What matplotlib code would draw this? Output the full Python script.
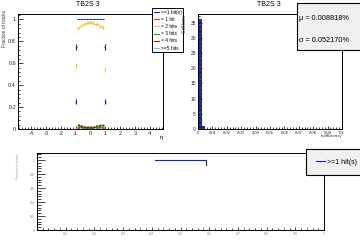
import matplotlib
matplotlib.use('Agg')
import matplotlib.pyplot as plt
from matplotlib.lines import Line2D
from matplotlib.patches import Rectangle
from matplotlib.ticker import MultipleLocator

plt.rcParams['font.family'] = ['Liberation Sans', 'DejaVu Sans']

W, H = 360, 240

# --- top left: fraction of tracks vs eta, per number of hits
eta_in = [-0.85, -0.75, -0.65, -0.55, -0.45, -0.35, -0.25, -0.15, -0.05,
          0.05, 0.15, 0.25, 0.35, 0.45, 0.55, 0.65, 0.75, 0.85]
frac_any = [1.0, 1.0, 1.0, 1.0, 1.0, 1.0, 1.0, 1.0, 1.0,
            1.0, 1.0, 1.0, 1.0, 1.0, 1.0, 1.0, 1.0, 1.0]
frac_2 = [0.92, 0.93, 0.94, 0.95, 0.96, 0.965, 0.97, 0.975, 0.97,
          0.975, 0.97, 0.96, 0.955, 0.96, 0.95, 0.93, 0.94, 0.925]
frac_1 = [0.006, 0.004, 0.003, 0.004, 0.003, 0.002, 0.003, 0.002, 0.003,
          0.002, 0.003, 0.002, 0.004, 0.003, 0.003, 0.004, 0.003, 0.006]
frac_3 = [0.02, 0.018, 0.022, 0.015, 0.012, 0.014, 0.01, 0.009, 0.011,
          0.01, 0.012, 0.014, 0.016, 0.013, 0.018, 0.022, 0.02, 0.019]
frac_4 = [0.04, 0.035, 0.03, 0.028, 0.022, 0.02, 0.018, 0.015, 0.017,
          0.014, 0.016, 0.022, 0.025, 0.024, 0.028, 0.035, 0.032, 0.04]
frac_5 = [0.0, 0.001, 0.001, 0.002, 0.003, 0.004, 0.005, 0.005, 0.006,
          0.005, 0.005, 0.004, 0.003, 0.002, 0.002, 0.001, 0.001, 0.0]
eta_edge = [-0.95, 0.95]
any_edge = [0.75, 0.75]
two_edge = [0.58, 0.54]
one_edge = [0.012, 0.01]
eta_outer = [-1.0, 1.0]
any_outer = [0.25, 0.25]

# --- top right: per-cell inefficiency
cell_ineff = [0.0] * 36 + [0.003263]
stat_mu = '0.008818%'
stat_sigma = '0.052170%'

# --- bottom
bot_x = [0.41, 0.59, 0.59]
bot_y = [1.0, 1.0, 0.93]

c_any = '#0b2f9a'
c_1 = '#ff3b1a'
c_2 = '#f5c431'
c_3 = '#2a9a10'
c_4 = '#6b3300'
c_5 = '#70c8ff'


def box(l, t, r, b):
    return [l / W, 1 - b / H, (r - l) / W, (b - t) / H]


def style(ax, xmaj, xmin, ymaj, ymin, lab, xlen=2.2, ylen=3.5):
    for s in ax.spines.values():
        s.set_linewidth(0.7)
    ax.tick_params(which='both', direction='in', top=False, right=False,
                   width=0.6, labelsize=lab, pad=1.5, colors='#222222')
    ax.tick_params(axis='x', which='major', length=xlen)
    ax.tick_params(axis='x', which='minor', length=xlen * 0.55)
    ax.tick_params(axis='y', which='major', length=ylen)
    ax.tick_params(axis='y', which='minor', length=ylen * 0.5)
    ax.xaxis.set_major_locator(MultipleLocator(xmaj))
    ax.xaxis.set_minor_locator(MultipleLocator(xmin))
    ax.yaxis.set_major_locator(MultipleLocator(ymaj))
    ax.yaxis.set_minor_locator(MultipleLocator(ymin))


fig = plt.figure(figsize=(3.6, 2.4), dpi=100)

# top left pad
ax1 = fig.add_axes(box(18, 14, 163, 129))
ax1.set_xlim(-4.9, 4.9)
ax1.set_ylim(0, 1.05)
style(ax1, 1, 0.2, 0.2, 0.04, 4)
ax1.yaxis.set_major_formatter(lambda v, p: f'{v:g}')
ax1.xaxis.set_major_formatter(lambda v, p: f'{v:g}')

ekw = dict(fmt='none', xerr=0.05, elinewidth=0.8, capsize=0)
ax1.errorbar(eta_in, frac_1, yerr=0.003, ecolor=c_1, **ekw)
ax1.errorbar(eta_edge, one_edge, yerr=0.005, ecolor=c_1, **ekw)
ax1.errorbar(eta_in, frac_5, yerr=0.002, ecolor=c_5, **ekw)
ax1.errorbar(eta_in, frac_3, yerr=0.006, ecolor=c_3, **ekw)
ax1.errorbar(eta_in, frac_4, yerr=0.008, ecolor=c_4, **ekw)
ax1.errorbar(eta_in, frac_2, yerr=0.012, ecolor=c_2, **ekw)
ax1.errorbar(eta_edge, two_edge, yerr=0.02, ecolor=c_2, **ekw)
ax1.errorbar(eta_in, frac_any, yerr=0.0, ecolor=c_any, **ekw)
ax1.errorbar(eta_edge, any_edge, yerr=0.025, ecolor=c_any,
             fmt='none', xerr=0.03, elinewidth=0.8, capsize=0)
ax1.errorbar(eta_outer, any_outer, yerr=0.025, ecolor=c_any,
             fmt='none', xerr=0.03, elinewidth=0.8, capsize=0)

handles = [Line2D([], [], color=c, lw=0.8) for c in
           [c_any, c_1, c_2, c_3, c_4, c_5]]
labels = ['>=1 hit(s)', '= 1 hit', '= 2 hits', '= 3 hits', '= 4 hits',
          '>=5 hits']
leg = ax1.legend(handles, labels, loc='upper left',
                 bbox_to_anchor=(152 / W, 1 - 8 / H),
                 bbox_transform=fig.transFigure, fontsize=3.5,
                 handlelength=1.1, handletextpad=0.3, labelspacing=0.45,
                 borderpad=0.35, borderaxespad=0, fancybox=False,
                 framealpha=1, edgecolor='black')
leg.get_frame().set_linewidth(0.7)
leg.set_zorder(10)

fig.text(88 / W, 1 - 5 / H, 'TB2S 3', ha='center', va='center', fontsize=5)
fig.text(5 / W, 1 - 10 / H, 'Fraction of tracks', rotation=90,
         ha='center', va='top', fontsize=3.4, color='#333333')
fig.text(161 / W, 1 - 137 / H, 'η', ha='center', va='center', fontsize=4.5)

# top right pad
ax2 = fig.add_axes(box(198, 14, 342, 129))
ax2.set_xlim(0, 0.1)
ax2.set_ylim(0, 37.8)
style(ax2, 0.01, 0.002, 5, 1, 3, xlen=2.2, ylen=3.0)
ax2.tick_params(axis='y', labelsize=3.5)
ax2.xaxis.set_major_formatter(lambda v, p: f'{v:g}')
ax2.hist(cell_ineff, bins=50, range=(0, 0.1), histtype='stepfilled',
         facecolor='#1f3fc0', edgecolor='#0a1a80', hatch='----',
         linewidth=0.6)
fig.text(269 / W, 1 - 5 / H, 'TB2S 3', ha='center', va='center', fontsize=5)
fig.text(184 / W, 1 - 15 / H, 'Cell bins', rotation=90,
         ha='center', va='top', fontsize=3.3, color='#333333')
fig.text(342 / W, 1 - 136 / H, 'Inefficiency', ha='right', va='center',
         fontsize=3.2, color='#333333')

fig.patches.append(Rectangle((297 / W, 1 - 50 / H), 70 / W, 47 / H,
                             transform=fig.transFigure, facecolor='#f0f0f0',
                             edgecolor='black', linewidth=0.8, zorder=10))
fig.text(299 / W, 1 - 19 / H, 'μ = ' + stat_mu, ha='left', va='center',
         fontsize=5.3, zorder=11)
fig.text(299 / W, 1 - 40 / H, 'σ = ' + stat_sigma, ha='left', va='center',
         fontsize=5.3, zorder=11)

# bottom pad
ax3 = fig.add_axes(box(37, 153, 324, 230))
ax3.set_xlim(0, 1)
ax3.set_ylim(0, 1.1)
style(ax3, 0.1, 0.02, 0.2, 0.04, 2.5, xlen=2.2, ylen=5.8)
ax3.tick_params(colors='#222222', labelcolor='#888888')
ax3.xaxis.set_major_formatter(lambda v, p: '' if v == 0 else f'{v:g}')
ax3.yaxis.set_major_formatter(lambda v, p: f'{v:g}')
ax3.plot(bot_x, bot_y, color=c_any, lw=0.8)
fig.text(18 / W, 1 - 153 / H, 'Fraction of events', rotation=90,
         ha='center', va='top', fontsize=2.3, color='#999999')

leg3 = ax3.legend([Line2D([], [], color=c_any, lw=0.8)], ['>=1 hit(s)'],
                  loc='upper left', bbox_to_anchor=(306 / W, 1 - 149 / H),
                  bbox_transform=fig.transFigure, fontsize=5,
                  handlelength=1.3, handletextpad=0.3, borderpad=1.4,
                  borderaxespad=0, fancybox=False, framealpha=1,
                  facecolor='#f0f0f0', edgecolor='black')
leg3.get_frame().set_linewidth(0.8)

fig.savefig('out.png', dpi=100)
